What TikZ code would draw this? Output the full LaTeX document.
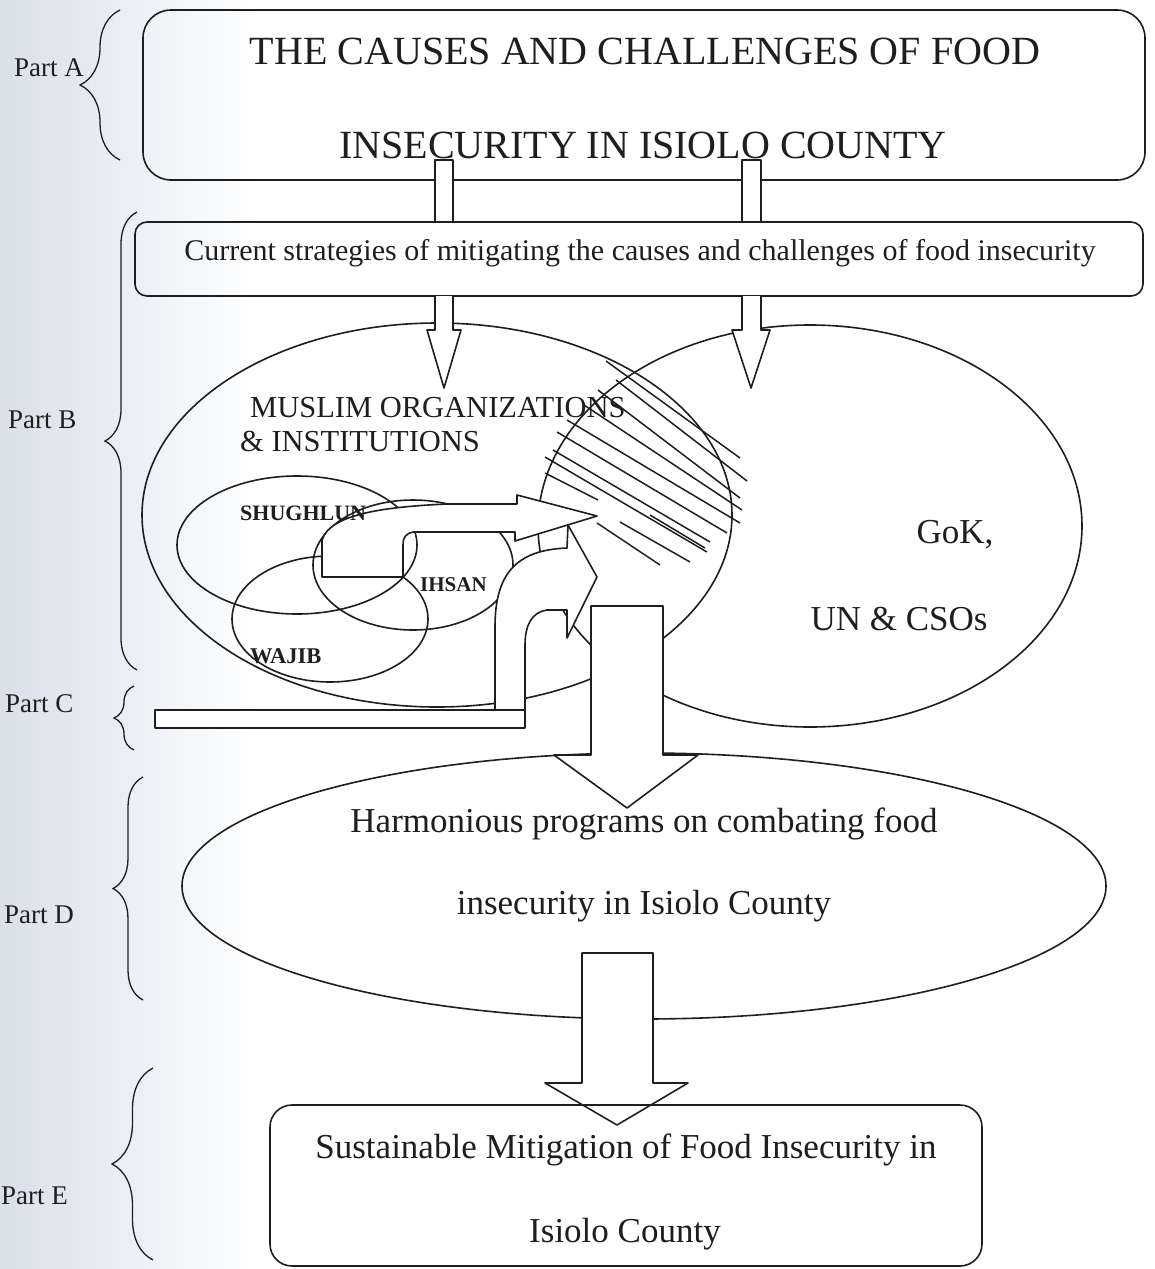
\documentclass[tikz,border=0pt]{standalone}
\usepackage{fontspec}
\setmainfont{Liberation Serif}
\usetikzlibrary{decorations.pathreplacing}
\definecolor{ink}{RGB}{30,30,30}
\definecolor{paper}{RGB}{216,224,234}

\begin{document}
\begin{tikzpicture}[x=1pt,y=-1pt,
  outline/.style={draw=ink,line width=1.6pt,line join=round},
  blockarrow/.style={outline,fill=white},
  txt/.style={inner sep=0pt,text=ink},
  parttag/.style={txt,anchor=base west,font=\fontsize{27}{30}\selectfont},
  partbrace/.style={draw=ink,line width=1.3pt,decorate,decoration={brace,amplitude=#1pt}},
  hatch/.style={draw=ink,line width=1.5pt}]

\useasboundingbox (0,0) rectangle (1155,1269);
\fill[white] (0,0) rectangle (1155,1269);
\fill[left color=paper,right color=white] (0,0) rectangle (260,1269);

% ---------- Part A: title box ----------
\draw[outline,rounded corners=28pt] (143,10) rectangle (1145,180);
\node[txt,anchor=base,font=\fontsize{40}{48}\selectfont] (titleA) at (645,64) {THE CAUSES AND CHALLENGES OF FOOD};
\node[txt,anchor=base,font=\fontsize{40}{48}\selectfont] (titleB) at (643,158) {INSECURITY IN ISIOLO COUNTY};

% shafts from the title box down to the strategies box
\draw[blockarrow] (435,160) rectangle (453,222);
\draw[blockarrow] (742,160) rectangle (761,222);

% ---------- strategies box ----------
\draw[outline,rounded corners=12pt] (135,222) rectangle (1143,296);
\node[txt,anchor=base,font=\fontsize{30}{36}\selectfont] (strategies) at (640,260)
  {Current strategies of mitigating the causes and challenges of food insecurity};

% ---------- Part B: the two stakeholder groups ----------
\draw[outline] (437,515) ellipse [x radius=295pt, y radius=192pt];
\draw[outline] (810,526) ellipse [x radius=272pt, y radius=201pt];

% shared ground between the two groups
\foreach \xa/\ya/\xb/\yb in {
  606/361/740/458, 616/380/747/481, 598/390/740/498, 584/405/742/510,
  567/420/740/523, 557/432/727/533, 553/450/710/542, 545/457/707/552,
  545/473/598/500, 597/523/660/565, 620/522/690/562, 650/515/705/548}
  \draw[hatch] (\xa,\ya) -- (\xb,\yb);

% arrows entering the two groups
\draw[blockarrow] (435,296) -- (435,330) -- (427,330) -- (444,388) -- (461,330) -- (453,330) -- (453,296);
\draw[blockarrow] (742,296) -- (742,330) -- (732,330) -- (751,388) -- (770,330) -- (761,330) -- (761,296);

% the three Muslim bodies
\draw[outline] (297,545) ellipse [x radius=120pt, y radius=69pt];
\draw[outline] (413,565) ellipse [x radius=100pt, y radius=65pt];
\draw[outline] (330,619) ellipse [x radius=98pt, y radius=63pt];

% bent arrow from the Muslim bodies into the shared ground
\draw[blockarrow] (322,577) -- (403,577) -- (403,545)
  .. controls (403,537) and (406,533) .. (414,532) -- (515,532) -- (515,541)
  -- (597,516) -- (517,495) -- (517,504) -- (447,504)
  .. controls (380,507) and (330,515) .. (322,540) -- cycle;

% Part C: curved arrow rising from the bar
\draw[blockarrow] (495,710) -- (495,627)
  .. controls (495,575) and (515,550) .. (567,548) -- (568,525) -- (597,577)
  -- (567,638) -- (567,610) -- (547,610)
  .. controls (532,612) and (525,625) .. (525,645) -- (525,710);
\draw[blockarrow] (155,710) rectangle (525,728);

% ---------- Part D ----------
\draw[outline] (644,886) ellipse [x radius=462pt, y radius=133pt];
\draw[blockarrow] (591,606) -- (663,606) -- (663,755) -- (698,755) -- (627,808)
  -- (554,755) -- (591,755) -- cycle;

% ---------- Part E ----------
\draw[blockarrow] (582,953) -- (653,953) -- (653,1083) -- (688,1083) -- (617,1125)
  -- (545,1083) -- (582,1083) -- cycle;
\draw[outline,rounded corners=22pt] (270,1105) rectangle (982,1266);

% ---------- texts ----------
\node[txt,anchor=base west,font=\fontsize{30.5}{34}\selectfont] (muslimA) at (250,417) {MUSLIM ORGANIZATIONS};
\node[txt,anchor=base west,font=\fontsize{30.5}{34}\selectfont] (muslimB) at (240,451) {\& INSTITUTIONS};
\node[txt,anchor=base west,font=\bfseries\fontsize{22}{25}\selectfont] (shughlun) at (240,520) {SHUGHLUN};
\node[txt,anchor=base west,font=\bfseries\fontsize{21}{24}\selectfont] (ihsan) at (420,591) {IHSAN};
\node[txt,anchor=base west,font=\bfseries\fontsize{22.5}{25}\selectfont] (wajib) at (250,663) {WAJIB};
\node[txt,anchor=base,font=\fontsize{35}{40}\selectfont] (gok) at (955,543) {GoK,};
\node[txt,anchor=base,font=\fontsize{35}{40}\selectfont] (un) at (899,630) {UN \& CSOs};
\node[txt,anchor=base,font=\fontsize{35}{40}\selectfont] (harmA) at (644,832) {Harmonious programs on combating food};
\node[txt,anchor=base,font=\fontsize{35}{40}\selectfont] (harmB) at (644,914) {insecurity in Isiolo County};
\node[txt,anchor=base,font=\fontsize{35}{40}\selectfont] (sustA) at (626,1158) {Sustainable Mitigation of Food Insecurity in};
\node[txt,anchor=base,font=\fontsize{35}{40}\selectfont] (sustB) at (625,1242) {Isiolo County};

% ---------- part markers ----------
\draw[partbrace=40] (120,160) -- (120,10);
\draw[partbrace=32] (137,670) -- (137,212);
\draw[partbrace=20] (134,750) -- (134,686);
\draw[partbrace=30] (143,1000) -- (143,777);
\draw[partbrace=41] (153,1260) -- (153,1068);
\node[parttag] (partA) at (14,76) {Part A};
\node[parttag] (partB) at (8,428) {Part B};
\node[parttag] (partC) at (5,712) {Part C};
\node[parttag] (partD) at (4,923) {Part D};
\node[parttag] (partE) at (1,1204) {Part E};
\end{tikzpicture}
\end{document}
